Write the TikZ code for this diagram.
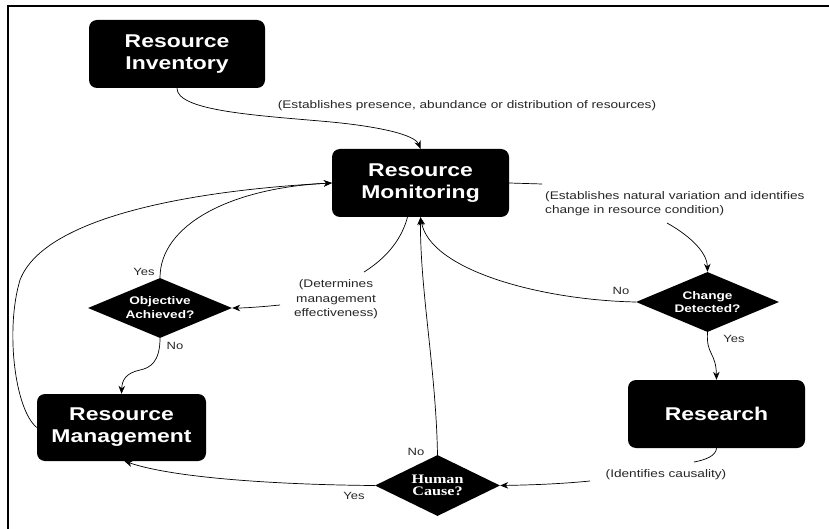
\documentclass[tikz,border=0pt]{standalone}
\usepackage{fontspec}
\usetikzlibrary{shapes.geometric,arrows.meta,calc}
\newfontfamily\lsans[FakeStretch=1.24]{Liberation Sans}
\newfontfamily\lserif[FakeStretch=1.24]{Liberation Serif}
\begin{document}
\begin{tikzpicture}[x=1pt,y=-1pt,
  box/.style={fill=black, text=white, rounded corners=8pt, font=\lsans\bfseries\fontsize{18.5}{22}\selectfont, align=center, inner sep=0pt},
  dia/.style={diamond, fill=black, text=white, inner sep=0pt, align=center, font=\lsans\bfseries\fontsize{11}{14}\selectfont},
  lab/.style={font=\lsans\fontsize{11}{14.3}\selectfont, text=black!85, inner sep=0pt},
  yn/.style={font=\lsans\fontsize{10.5}{12}\selectfont, text=black!85, inner sep=0pt},
  conn/.style={line width=0.7pt},
  arr/.style={conn, -{Stealth[length=8pt,width=6.5pt]}}
]
\useasboundingbox (0,0) rectangle (829,529);
\draw[line width=2pt] (7.5,529) -- (7.5,6) -- (829,6);

\node[box, minimum width=176pt, minimum height=68pt] (inv) at (177,54) {Resource\\Inventory};
\node[box, minimum width=177pt, minimum height=68pt] (mon) at (420.5,183) {Resource\\Monitoring};
\node[box, minimum width=169pt, minimum height=67pt] (mgmt) at (121.5,427.5) {Resource\\Management};
\node[box, minimum width=177pt, minimum height=68pt] (res) at (716.5,414) {Research};

\node[dia, minimum width=144pt, minimum height=60pt, shape aspect=2.4] (obj) at (160,308) {Objective\\Achieved?};
\node[dia, minimum width=143pt, minimum height=60pt, shape aspect=2.4, font=\lsans\bfseries\fontsize{11}{13}\selectfont] (chg) at (707.5,302) {Change\\Detected?};
\node[dia, minimum width=125pt, minimum height=61pt, shape aspect=2.05, font=\lserif\bfseries\fontsize{13}{12.5}\selectfont] (hum) at (437.5,485.5) {Human\\Cause?};

\node[lab] (l1) at (467,106) {(Establishes presence, abundance or distribution of resources)};
\node[lab, align=left, anchor=west] (l2) at (545,203.5) {(Establishes natural variation and identifies\\change in resource condition)};
\node[lab, align=center] (l3) at (336,299.3) {(Determines\\management\\effectiveness)};
\node[lab] (l4) at (666,475) {(Identifies causality)};

\node[yn] (y1) at (144,272) {Yes};
\node[yn] (n1) at (175,346) {No};
\node[yn] (n2) at (621,291) {No};
\node[yn] (y2) at (734,339) {Yes};
\node[yn] (n3) at (416,452) {No};
\node[yn] (y3) at (354,496) {Yes};

\coordinate (c2a) at (542,184);
\coordinate (c2b) at (667,223);
\coordinate (c5a) at (694,462);
\coordinate (c5b) at (590,481);
\coordinate (c7a) at (364,272);
\coordinate (c7b) at (280,305);

\draw[arr] (inv.south) .. controls (177,110) and (250,115) .. (320,121) .. controls (380,126) and (415,135) .. (mon.north);
\draw[conn] (mon.east) -- (c2a);
\draw[arr] (c2b) .. controls (685,233) and (707,250) .. (chg.north);
\draw[arr] (chg.west) .. controls (540,300) and (430,270) .. (mon.south);
\draw[arr] (chg.south) .. controls (706,355) and (716,352) .. (res.north);
\draw[conn] (res.south) .. controls (716,456) and (705,460) .. (c5a);
\draw[arr] (c5b) .. controls (560,484) and (530,485) .. (hum.east);
\draw[arr] (hum.north) .. controls (436,370) and (420,290) .. (mon.south);
\draw[conn] ($(mon.south)+(-13,0)$) .. controls (400,245) and (380,262) .. (c7a);
\draw[arr] (c7b) .. controls (260,307) and (245,308) .. (obj.east);
\draw[arr] (obj.north) .. controls (160,225) and (230,188) .. (mon.west);
\draw[arr] (obj.south) .. controls (160,362) and (150,368) .. (140,370) .. controls (126,373) and (122,380) .. (mgmt.north);
\draw[arr] (mgmt.west) .. controls (15,410) and (5,330) .. (20,280) .. controls (45,215) and (200,190) .. (mon.west);
\draw[arr] (hum.west) .. controls (300,485) and (180,480) .. ($(mgmt.south)+(3,0)$);
\end{tikzpicture}
\end{document}
